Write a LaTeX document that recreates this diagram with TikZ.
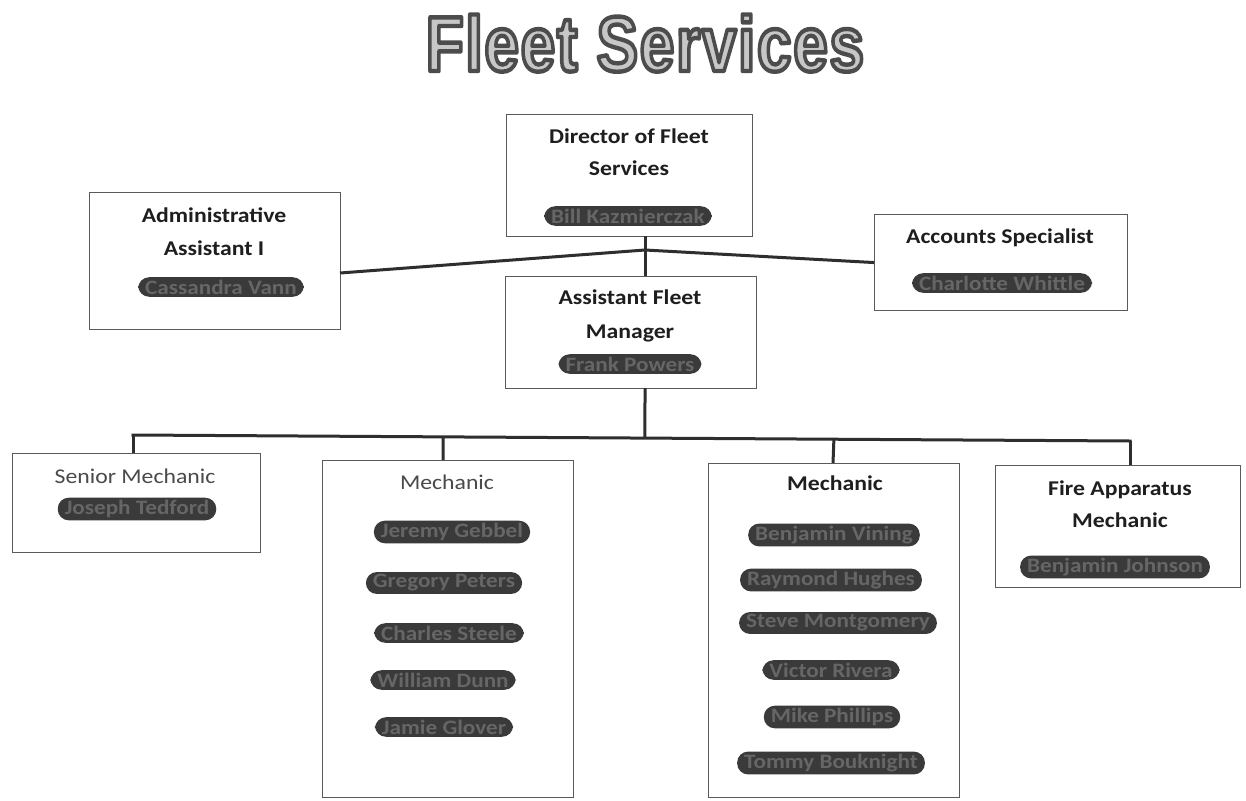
\documentclass[tikz,border=0pt]{standalone}
\usepackage{fontspec}
\setmainfont{Carlito}
\newfontfamily\rolefont{Carlito}[FakeStretch=1.13]
\newfontfamily\titlefont{Liberation Sans}[LetterSpace=2.5]
\usetikzlibrary{calc}
\definecolor{boxline}{HTML}{5A5A5A}
\definecolor{connc}{HTML}{2E2E2E}
\definecolor{blob}{HTML}{3A3A3A}
\definecolor{blobtext}{HTML}{666666}
\definecolor{roletext}{HTML}{1E1E1E}
\definecolor{rolegray}{HTML}{4A4A4A}
\newcommand{\ttltext}{\titlefont\bfseries\fontsize{78}{80}\selectfont\scalebox{0.8}[1]{\special{pdf:literal direct q 2 Tr 4.4 w 1 j 0.30 0.30 0.30 RG 0.78 0.78 0.78 rg}Fleet Services\special{pdf:literal direct Q}}}
\begin{document}
\begin{tikzpicture}[x=1pt,y=-1pt,
  box/.style={draw=boxline, line width=1.1pt, rectangle, inner sep=0pt, anchor=north west},
  conn/.style={draw=connc, line width=3pt},
  role/.style={anchor=base, font=\rolefont\fontsize{21}{24}\selectfont\bfseries, text=roletext, inner sep=0pt},
  rolegr/.style={anchor=base, font=\rolefont\fontsize{21}{24}\selectfont, text=rolegray, inner sep=0pt},
  nameblob/.style={fill=blob, text=blobtext, rounded corners=11pt, inner xsep=7pt, inner ysep=2.5pt, font=\rolefont\fontsize{20.5}{22}\selectfont\bfseries}]
\useasboundingbox (0,0) rectangle (1246,800);
\fill[white] (0,0) rectangle (1246,800);

% title
\node[anchor=base, inner sep=0pt] (title) at (645,71) {\ttltext};

% boxes
\node[box, minimum width=246pt, minimum height=122pt] (dir) at (506,114) {};
\node[box, minimum width=251pt, minimum height=137pt] (adm) at (89,192) {};
\node[box, minimum width=253pt, minimum height=96pt] (acc) at (874,214) {};
\node[box, minimum width=251pt, minimum height=112pt] (afm) at (505,276) {};
\node[box, minimum width=248pt, minimum height=99pt] (sen) at (12,453) {};
\node[box, minimum width=251pt, minimum height=337pt] (mc1) at (322,460) {};
\node[box, minimum width=251pt, minimum height=334pt] (mc2) at (708,463) {};
\node[box, minimum width=245pt, minimum height=122pt] (fir) at (995,465) {};

% texts
\node[role] (dirt1) at (629,143) {Director of Fleet};
\node[role] (dirt2) at (629,175) {Services};
\node[nameblob] (dirn) at (628,216) {Bill Kazmierczak};

\node[role] (admt1) at (214,222) {Administrative};
\node[role] (admt2) at (214,255) {Assistant I};
\node[nameblob] (admn) at (221,287) {Cassandra Vann};

\node[role] (acct1) at (1000,243) {Accounts Specialist};
\node[nameblob] (accn) at (1002,283) {Charlotte Whittle};

\node[role] (afmt1) at (630,304) {Assistant Fleet};
\node[role] (afmt2) at (630,338) {Manager};
\node[nameblob] (afmn) at (630,364) {Frank Powers};

\node[rolegr] (sent) at (135,483) {Senior Mechanic};
\node[nameblob] (senn) at (137,509) {Joseph Tedford};

\node[rolegr] (mc1t) at (447,489) {Mechanic};
\node[nameblob] (mc1a) at (452,532) {Jeremy Gebbel};
\node[nameblob] (mc1b) at (444,583) {Gregory Peters};
\node[nameblob] (mc1c) at (449,633) {Charles Steele};
\node[nameblob] (mc1d) at (443,680) {William Dunn};
\node[nameblob] (mc1e) at (444,727) {Jamie Glover};

\node[role] (mc2t) at (835,490) {Mechanic};
\node[nameblob] (mc2a) at (834,535) {Benjamin Vining};
\node[nameblob] (mc2b) at (831,580) {Raymond Hughes};
\node[nameblob] (mc2c) at (838,623) {Steve Montgomery};
\node[nameblob] (mc2d) at (831,670) {Victor Rivera};
\node[nameblob] (mc2e) at (832,717) {Mike Phillips};
\node[nameblob] (mc2f) at (831,763) {Tommy Bouknight};

\node[role] (firt1) at (1120,495) {Fire Apparatus};
\node[role] (firt2) at (1120,527) {Mechanic};
\node[nameblob] (firn) at (1115,567) {Benjamin Johnson};

% connectors
\coordinate (jt) at (645,236);
\coordinate (j) at (645,250);
\coordinate (ae) at (340,273);
\coordinate (afmtop) at (645,276);
\coordinate (afmbot) at (645,388);
\coordinate (bl) at (133,435);
\coordinate (br) at (1130,441);
\coordinate (bm) at ($(bl)!0.5135!(br)$);
\coordinate (b1) at ($(bl)!0.311!(br)$);
\coordinate (b2) at ($(bl)!0.703!(br)$);
\coordinate (s0) at (133,453);
\coordinate (s1) at (443,460);
\coordinate (s2) at (833,463);
\coordinate (s3) at (1130,465);

\draw[conn] (jt) -- (j);
\draw[conn] (j) -- (ae);
\draw[conn] (j) -- (acc.west);
\draw[conn] (j) -- (afmtop);
\draw[conn] (afmbot) -- (bm);
\draw[conn, line cap=rect] (bl) -- (br);
\draw[conn] (bl) -- (s0);
\draw[conn] (b1) -- (s1);
\draw[conn] (b2) -- (s2);
\draw[conn] (br) -- (s3);
\end{tikzpicture}
\end{document}
